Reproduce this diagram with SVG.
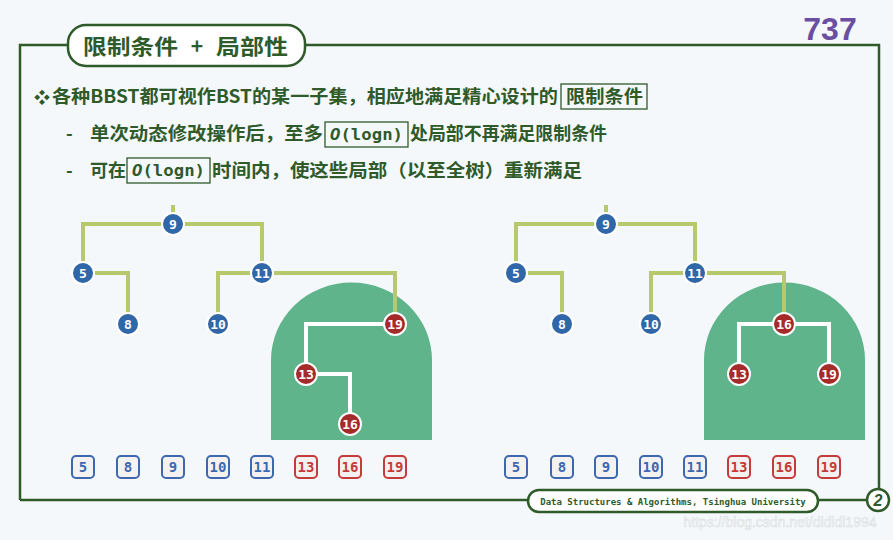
<svg xmlns="http://www.w3.org/2000/svg" width="893" height="540" viewBox="0 0 893 540">
<style>
.t{font-family:"Noto Sans CJK SC","Noto Sans",sans-serif;font-weight:bold;fill:#2f5a2a}
.m{font-family:"DejaVu Sans Mono","Liberation Mono",monospace;font-weight:bold;fill:#2f5a2a}
.frame{fill:none;stroke:#2f5a2a;stroke-width:2.5}
.hl{fill:none;stroke:#2f5a2a;stroke-width:1.3}
.e{fill:none;stroke:#b7c96c;stroke-width:4}
.w{fill:none;stroke:#ffffff;stroke-width:4}
.nb{fill:#2f67a8;stroke:#fff;stroke-width:2}
.nr{fill:#a52a2a;stroke:#fff;stroke-width:2}
.nl{font-family:"DejaVu Sans Mono",monospace;font-weight:bold;font-size:13px;fill:#fff;text-anchor:middle}
.kb{fill:#f3f2f0;stroke:#3d68b0;stroke-width:2}
.kr{fill:#f3f2f0;stroke:#c53a3a;stroke-width:2}
.kl{font-family:"DejaVu Sans Mono",monospace;font-weight:bold;font-size:14px;text-anchor:middle}
.green{fill:#5fb48c}
</style>
<rect width="893" height="540" fill="#f5f8fb"/>
<g id="frame">
<path class="frame" d="M20 500 V45 H68 M305 45 H879 V490 M20 500 H528 M818 500 H866"/>
<rect x="68" y="25" width="237" height="41" rx="18" fill="#fff" stroke="#2f5a2a" stroke-width="2.5"/>
<text class="t" x="83" y="54" font-size="21" textLength="95" lengthAdjust="spacingAndGlyphs">限制条件</text>
<text class="t" x="197" y="54" font-size="21" text-anchor="middle">+</text>
<text class="t" x="216" y="54" font-size="21" textLength="72" lengthAdjust="spacingAndGlyphs">局部性</text>
<text x="830" y="40" font-family="Liberation Sans,sans-serif" font-weight="bold" font-size="32" fill="#6a4ea0" text-anchor="middle">737</text>
<rect x="528" y="490" width="290" height="22" rx="11" fill="#fff" stroke="#2f5a2a" stroke-width="2.5"/>
<text class="m" x="673" y="505" font-size="9" text-anchor="middle">Data Structures &amp; Algorithms, Tsinghua University</text>
<circle cx="878" cy="500" r="11" fill="#fff" stroke="#2f5a2a" stroke-width="2.5"/>
<text x="878" y="506" font-family="Liberation Sans,sans-serif" font-style="italic" font-weight="bold" font-size="16" fill="#2f5a2a" text-anchor="middle">2</text>
<text x="780" y="527" font-family="Liberation Sans,sans-serif" font-size="14" fill="#ffffff" stroke="#d8dde2" stroke-width="0.6" text-anchor="middle">https://blog.csdn.net/dldldl1994</text>
</g>
<g id="text">
<text class="t" x="34" y="103" font-size="16">❖</text>
<text class="t" x="52" y="103" font-size="18" textLength="506" lengthAdjust="spacingAndGlyphs">各种BBST都可视作BST的某一子集，相应地满足精心设计的</text>
<rect class="hl" x="561" y="84" width="86" height="25"/>
<text class="t" x="566" y="103" font-size="18" textLength="77" lengthAdjust="spacingAndGlyphs">限制条件</text>
<text class="t" x="66" y="140" font-size="18">-</text>
<text class="t" x="90" y="140" font-size="18" textLength="233" lengthAdjust="spacingAndGlyphs">单次动态修改操作后，至多</text>
<rect class="hl" x="325" y="122" width="83" height="25"/>
<text class="m" x="330" y="140" font-size="15" textLength="73" lengthAdjust="spacingAndGlyphs"><tspan font-style="italic">O</tspan>(logn)</text>
<text class="t" x="410" y="140" font-size="18" textLength="197" lengthAdjust="spacingAndGlyphs">处局部不再满足限制条件</text>
<text class="t" x="66" y="177" font-size="18">-</text>
<text class="t" x="90" y="177" font-size="18" textLength="36" lengthAdjust="spacingAndGlyphs">可在</text>
<rect class="hl" x="127" y="158" width="83" height="25"/>
<text class="m" x="132" y="176" font-size="15" textLength="73" lengthAdjust="spacingAndGlyphs"><tspan font-style="italic">O</tspan>(logn)</text>
<text class="t" x="212" y="177" font-size="18" textLength="370" lengthAdjust="spacingAndGlyphs">时间内，使这些局部（以至全树）重新满足</text>
</g>
<g id="shapes">
<path class="green" d="M271 440 V360 A80 77 0 0 1 432 360 V440 Z"/>
<path class="green" d="M704 440 V360 A80 77 0 0 1 865 360 V440 Z"/>
</g>
<g id="connectors">
<path class="e" d="M173 205 V224 M83 273 V224 H262 V273 M83 273 H128 V324 M218 324 V273 H395 V324"/>
<path class="w" d="M395 324 H306 V374 H350 V424"/>
<path class="e" d="M606 205 V224 M516 273 V224 H695 V273 M516 273 H562 V324 M651 324 V273 H784 V324"/>
<path class="w" d="M739 374 V324 H829 V374"/>
</g>
<g id="nodes">
<g id="L9"><circle class="nb" cx="173" cy="224" r="11"/><text class="nl" x="173" y="228.5">9</text></g>
<g id="L5"><circle class="nb" cx="83" cy="273" r="11"/><text class="nl" x="83" y="277.5">5</text></g>
<g id="L11"><circle class="nb" cx="262" cy="273" r="11"/><text class="nl" x="262" y="277.5">11</text></g>
<g id="L8"><circle class="nb" cx="128" cy="324" r="11"/><text class="nl" x="128" y="328.5">8</text></g>
<g id="L10"><circle class="nb" cx="218" cy="324" r="11"/><text class="nl" x="218" y="328.5">10</text></g>
<g id="L19"><circle class="nr" cx="395" cy="324" r="11"/><text class="nl" x="395" y="328.5">19</text></g>
<g id="L13"><circle class="nr" cx="306" cy="374" r="11"/><text class="nl" x="306" y="378.5">13</text></g>
<g id="L16"><circle class="nr" cx="350" cy="424" r="11"/><text class="nl" x="350" y="428.5">16</text></g>
<g id="R9"><circle class="nb" cx="606" cy="224" r="11"/><text class="nl" x="606" y="228.5">9</text></g>
<g id="R5"><circle class="nb" cx="516" cy="273" r="11"/><text class="nl" x="516" y="277.5">5</text></g>
<g id="R11"><circle class="nb" cx="695" cy="273" r="11"/><text class="nl" x="695" y="277.5">11</text></g>
<g id="R8"><circle class="nb" cx="562" cy="324" r="11"/><text class="nl" x="562" y="328.5">8</text></g>
<g id="R10"><circle class="nb" cx="651" cy="324" r="11"/><text class="nl" x="651" y="328.5">10</text></g>
<g id="R16"><circle class="nr" cx="784" cy="324" r="11"/><text class="nl" x="784" y="328.5">16</text></g>
<g id="R13"><circle class="nr" cx="739" cy="374" r="11"/><text class="nl" x="739" y="378.5">13</text></g>
<g id="R19"><circle class="nr" cx="829" cy="374" r="11"/><text class="nl" x="829" y="378.5">19</text></g>
</g>
<g id="keys">
<g fill="#3d68b0">
<rect class="kb" x="72" y="456" width="22" height="22" rx="4"/><text class="kl" x="83" y="472">5</text>
<rect class="kb" x="117" y="456" width="22" height="22" rx="4"/><text class="kl" x="128" y="472">8</text>
<rect class="kb" x="162" y="456" width="22" height="22" rx="4"/><text class="kl" x="173" y="472">9</text>
<rect class="kb" x="207" y="456" width="22" height="22" rx="4"/><text class="kl" x="218" y="472">10</text>
<rect class="kb" x="251" y="456" width="22" height="22" rx="4"/><text class="kl" x="262" y="472">11</text>
<rect class="kb" x="505" y="456" width="22" height="22" rx="4"/><text class="kl" x="516" y="472">5</text>
<rect class="kb" x="551" y="456" width="22" height="22" rx="4"/><text class="kl" x="562" y="472">8</text>
<rect class="kb" x="595" y="456" width="22" height="22" rx="4"/><text class="kl" x="606" y="472">9</text>
<rect class="kb" x="640" y="456" width="22" height="22" rx="4"/><text class="kl" x="651" y="472">10</text>
<rect class="kb" x="684" y="456" width="22" height="22" rx="4"/><text class="kl" x="695" y="472">11</text>
</g>
<g fill="#c53a3a">
<rect class="kr" x="295" y="456" width="22" height="22" rx="4"/><text class="kl" x="306" y="472">13</text>
<rect class="kr" x="339" y="456" width="22" height="22" rx="4"/><text class="kl" x="350" y="472">16</text>
<rect class="kr" x="384" y="456" width="22" height="22" rx="4"/><text class="kl" x="395" y="472">19</text>
<rect class="kr" x="728" y="456" width="22" height="22" rx="4"/><text class="kl" x="739" y="472">13</text>
<rect class="kr" x="773" y="456" width="22" height="22" rx="4"/><text class="kl" x="784" y="472">16</text>
<rect class="kr" x="818" y="456" width="22" height="22" rx="4"/><text class="kl" x="829" y="472">19</text>
</g>
</g>
</svg>
